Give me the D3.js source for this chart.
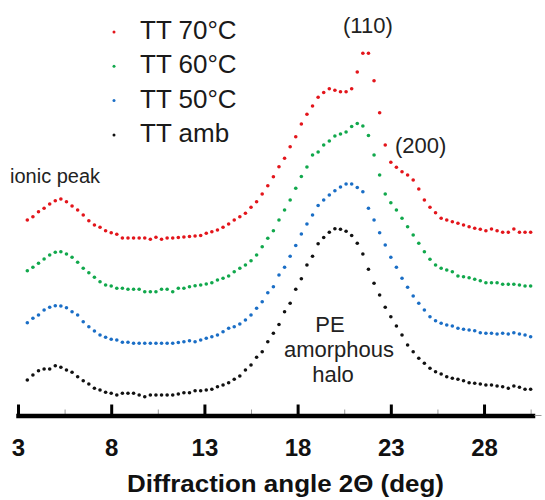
<!DOCTYPE html>
<html>
<head>
<meta charset="utf-8">
<script src="https://cdn.jsdelivr.net/npm/d3@7"></script>
<style>
  body { margin: 0; background: #fff; }
  svg text { font-family: Arial, "Liberation Sans", sans-serif; }
</style>
</head>
<body>
<div id="chart"></div>
<script>
var svgWidth = 545;
var svgHeight = 500;

// diffraction angle 2theta (deg), one value per measured point
var angles = [3.5, 3.8, 4.1, 4.4, 4.7, 5.0, 5.3, 5.6, 5.9, 6.2, 6.5, 6.8, 7.1, 7.4, 7.7, 8.0,
  8.3, 8.6, 8.9, 9.2, 9.5, 9.8, 10.1, 10.4, 10.7, 11.0, 11.3, 11.6, 11.9, 12.2, 12.5, 12.8,
  13.1, 13.4, 13.7, 14.0, 14.3, 14.6, 14.9, 15.2, 15.5, 15.8, 16.1, 16.4, 16.7, 17.0, 17.3,
  17.6, 17.9, 18.2, 18.5, 18.8, 19.1, 19.4, 19.7, 20.0, 20.3, 20.6, 20.9, 21.2, 21.5, 21.8,
  22.1, 22.4, 22.7, 23.0, 23.3, 23.6, 23.9, 24.2, 24.5, 24.8, 25.1, 25.4, 25.7, 26.0, 26.3,
  26.6, 26.9, 27.2, 27.5, 27.8, 28.1, 28.4, 28.7, 29.0, 29.3, 29.6, 29.9, 30.2, 30.5];

// intensity (a.u., curves offset for clarity)
var tt70 = [195, 198.3, 203.3, 206.7, 211, 214.3, 216, 213.3, 209, 205,
  200, 194.3, 190, 187.7, 184.3, 182.3, 180.7, 177, 177, 177,
  177, 177, 175.7, 177.7, 175.7, 177, 177, 177.5, 178, 178.5,
  179, 179.5, 181.7, 183.3, 185, 187.7, 191, 195, 198.3, 201.7,
  207.7, 213.3, 221, 229.3, 238.3, 248.3, 256.7, 268.3, 278.3, 291,
  300.7, 309, 317.7, 322.5, 326.3, 324.7, 323.2, 323.2, 326.3, 343,
  361.7, 361.7, 334.3, 302.3, 270, 252.7, 247.7, 243.3, 240, 235,
  226, 215, 207.7, 202.3, 196.7, 195, 193.3, 191.7, 190, 188.3,
  186.7, 185.7, 184.3, 186, 184.3, 182.7, 182.7, 186, 182.7, 182.7,
  182.7];

var tt60 = [144.3, 147.7, 151.7, 156, 160, 162.7, 163.3, 161, 157.7, 152.7,
  146.7, 142.3, 137.7, 133.3, 130, 129, 126.7, 126.7, 125.7, 125.7,
  125.7, 123.3, 123.3, 123.3, 125.7, 125.7, 123.3, 126.7, 126.7, 128.3,
  129.3, 130, 131, 132.3, 135, 136.7, 139, 143.3, 146.7, 150,
  154.3, 160, 168.3, 176.7, 184.3, 195, 205, 215, 226.7, 238.5,
  248, 260, 263, 270, 274, 279, 281, 283, 288.5, 291.5,
  289, 279.5, 260, 240, 221, 212.3, 205, 196.7, 188.3, 180,
  171.7, 163.3, 155.7, 150, 146.7, 145, 143.3, 139, 138.3, 137.3,
  135.7, 134.3, 132.3, 132.3, 132.3, 130.7, 130.7, 130.7, 130, 129,
  129];

var tt50 = [92.3, 96.7, 100, 105, 107.7, 109.3, 109, 107.3, 103.3, 100,
  93.3, 88.3, 84, 80, 77.7, 75.7, 75, 72.7, 72.7, 71.7,
  71.7, 71.7, 71.7, 71.7, 71.7, 71.7, 71.7, 72.5, 73.3, 74.3,
  73.3, 75, 76.7, 78.3, 80, 83.3, 86.7, 88.3, 91, 95,
  100, 106.7, 113.3, 122.3, 128.3, 140, 147.7, 158.7, 169.5, 181,
  191, 200, 209.5, 215, 220, 224.2, 228, 231, 231, 227.5,
  223.3, 206.7, 195, 182.3, 170, 157.7, 147.7, 136.7, 127.7, 119,
  111.7, 105, 98.3, 94.3, 91.7, 90, 89, 86.7, 85.7, 85,
  84.3, 82.3, 81.7, 81.7, 81, 81.7, 81, 82.3, 81, 80,
  78.3];

var ttAmb = [35, 40, 44.3, 46, 46, 49.3, 47.7, 45, 42.7, 38.3,
  34.3, 31, 26.7, 25, 22.7, 21.7, 20, 21.7, 21.7, 21.7,
  20, 18.3, 20, 20, 20, 20, 20, 21, 22.3, 22.3,
  24.3, 24.3, 25, 25.7, 28.3, 30, 32.3, 35.7, 39, 45,
  50, 57.7, 63.3, 73.3, 81.7, 90.5, 103.3, 111.7, 125.7, 136.2,
  150, 158.7, 171.3, 177.5, 182.8, 186.2, 185.7, 183.8, 179.5, 171.7,
  161, 145.7, 131.7, 120, 107.7, 98.3, 89, 80, 70, 63.3,
  56.7, 51.7, 46.7, 43.3, 41, 38.3, 36.7, 35.7, 34.3, 32.3,
  31.7, 31, 30, 30, 29, 28.3, 26.7, 29, 27.7, 25.7,
  25.7];

var seriesNames = ["TT 70°C", "TT 60°C", "TT 50°C", "TT amb"];
var majorTicks = [3, 8, 13, 18, 23, 28];
var minorTicks = [5.5, 10.5, 15.5, 20.5, 25.5, 30.5];

var series = [tt70, tt60, tt50, ttAmb];
var colors = ["#e3151b", "#11a84c", "#1a6ec6", "#111111"];

var axisY = 415.5;

var svg = d3.select("#chart")
  .append("svg")
  .attr("width", svgWidth)
  .attr("height", svgHeight);

// scales
var x = d3.scaleLinear()
  .domain([3, 30.6])
  .range([18, 532.5]);

var y = d3.scaleLinear()
  .domain([0, 415])
  .range([415, 0]);

// minor ticks (grey, short)
var minorAxis = d3.axisBottom(x)
  .tickValues(minorTicks)
  .tickSize(-6)
  .tickSizeOuter(0)
  .tickFormat("");

var minorG = svg.append("g")
  .attr("transform", `translate(0, ${axisY})`)
  .call(minorAxis);
minorG.select(".domain").remove();
minorG.selectAll(".tick line")
  .attr("stroke", "#9a9a9a")
  .attr("stroke-width", 1);

// major ticks + labels
var majorAxis = d3.axisBottom(x)
  .tickValues(majorTicks)
  .tickSize(-11)
  .tickSizeOuter(0)
  .tickPadding(23)
  .tickFormat(d3.format("d"));

var axisG = svg.append("g")
  .attr("transform", `translate(0, ${axisY})`)
  .call(majorAxis);

// d3 sets its own font on the axis group, so override after the call
axisG
  .attr("font-family", "Arial, 'Liberation Sans', sans-serif")
  .attr("font-size", 24);

axisG.select(".domain")
  .attr("stroke", "#000")
  .attr("stroke-width", 4.5)
  .attr("stroke-linecap", "square");

axisG.selectAll(".tick line")
  .attr("stroke", "#000")
  .attr("stroke-width", 3);

axisG.selectAll(".tick text")
  .attr("font-weight", "bold")
  .attr("fill", "#111");

// thin grey tail after the axis line
svg.append("line")
  .attr("x1", x(30.6) + 2)
  .attr("x2", x(30.6) + 9)
  .attr("y1", axisY)
  .attr("y2", axisY)
  .attr("stroke", "#999")
  .attr("stroke-width", 1);

// dotted curves
series.forEach(function(vals, k) {
  svg.append("g")
    .selectAll("circle")
    .data(angles.map((a, i) => [a, vals[i]]))
    .enter()
    .append("circle")
    .attr("cx", d => x(d[0]))
    .attr("cy", d => y(d[1]))
    .attr("r", 1.8)
    .attr("fill", colors[k]);
});

// legend
var legend = svg.append("g");
seriesNames.forEach(function(name, k) {
  var by = 39 + k * 34.3;
  legend.append("circle")
    .attr("cx", 114)
    .attr("cy", by - 7)
    .attr("r", 1.5)
    .attr("fill", colors[k]);
  legend.append("text")
    .attr("x", 140)
    .attr("y", by)
    .attr("font-size", 26)
    .attr("fill", "#1a1a1a")
    .text(name);
});

// annotations
svg.append("text")
  .attr("x", 10)
  .attr("y", 183)
  .attr("font-size", 20)
  .attr("fill", "#222")
  .text("ionic peak");

svg.append("text")
  .attr("x", 343)
  .attr("y", 33)
  .attr("font-size", 22)
  .attr("fill", "#222")
  .text("(110)");

svg.append("text")
  .attr("x", 395)
  .attr("y", 153)
  .attr("font-size", 22)
  .attr("fill", "#222")
  .text("(200)");

var haloLines = [["PE", 330, 332], ["amorphous", 339, 357], ["halo", 333, 382]];
haloLines.forEach(function(l) {
  svg.append("text")
    .attr("x", l[1])
    .attr("y", l[2])
    .attr("text-anchor", "middle")
    .attr("font-size", 22)
    .attr("fill", "#222")
    .text(l[0]);
});

// axis title
svg.append("text")
  .attr("x", 127)
  .attr("y", 492)
  .attr("font-size", 23.5)
  .attr("font-weight", "bold")
  .attr("fill", "#111")
  .attr("textLength", 317)
  .attr("lengthAdjust", "spacingAndGlyphs")
  .text("Diffraction angle 2Θ (deg)");
</script>
</body>
</html>
